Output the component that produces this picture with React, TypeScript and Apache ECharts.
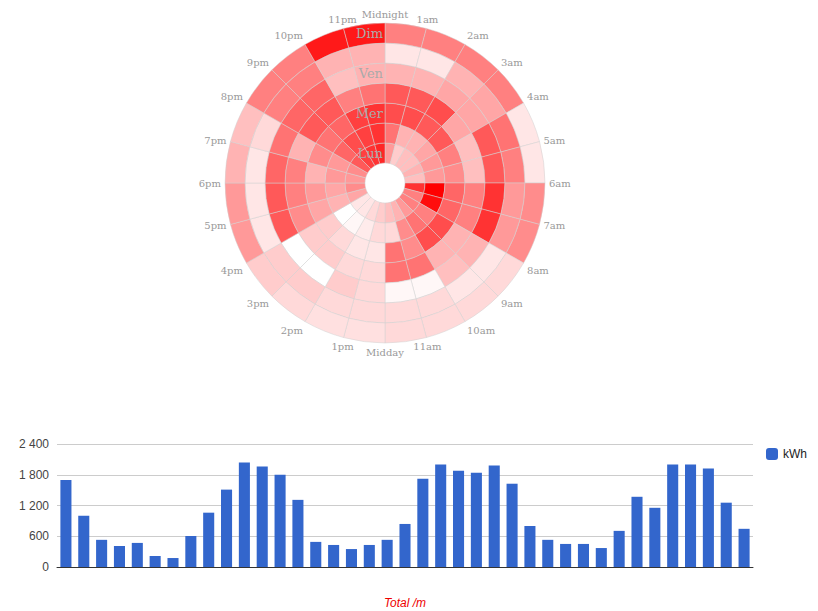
import { useEffect, useRef } from "react";
import * as echarts from "echarts";

const days = ["Lun", "Mar", "Mer", "Jeu", "Ven", "Sam", "Dim"];
const hours = [
    "Midnight", "1am", "2am", "3am", "4am", "5am", "6am", "7am", "8am", "9am", "10am", "11am",
    "Midday", "1pm", "2pm", "3pm", "4pm", "5pm", "6pm", "7pm", "8pm", "9pm", "10pm", "11pm",
];
// intensity 0..10 per hour, rings Lun -> Dim
const intensity = [
    [4, 5.5, 7, 6.5, 3, 1, 5],
    [2, 3, 7, 6.5, 3, 1, 5],
    [2.5, 3, 6.5, 7, 3.5, 3, 5],
    [2.5, 3.5, 6.5, 3.5, 3.5, 3.5, 5],
    [3, 4, 5, 2.5, 6.5, 5.5, 1],
    [2.5, 4, 4.5, 2.5, 6.5, 5, 1],
    [8, 10, 6, 5, 8, 4, 4.5],
    [5, 9.5, 6, 5, 8, 4, 4.5],
    [5, 5, 7, 3, 3, 1, 1.5],
    [4, 5.5, 7, 3, 2.5, 1, 1.5],
    [3, 4.5, 4.5, 5.5, 0.3, 1.5, 1.5],
    [2.5, 1.5, 5.5, 5.5, 0.3, 1.5, 1.5],
    [2, 1.5, 1, 1.5, 1.5, 1.5, 1.2],
    [1.5, 0.8, 1, 1.5, 2, 1.5, 1.2],
    [1, 0.3, 1.5, 2, 0, 2, 1.5],
    [1, 0, 2, 2, 0, 2, 2],
    [3.5, 3, 3.5, 4.5, 6.5, 1, 4],
    [4.5, 3.5, 4, 5, 6.5, 1, 4],
    [4, 4, 3, 5, 6, 1, 3],
    [4.5, 4, 4.5, 3, 5.5, 1.5, 2.5],
    [6.5, 6, 5.5, 6.5, 6, 5, 5],
    [7.5, 7, 6, 6.5, 6, 5, 5],
    [8, 7.5, 7.5, 5, 2.5, 3, 9],
    [8.5, 8, 8, 5.5, 3, 3, 9],
];

const barCategories = Array.from({ length: 39 }, (_, i) => String(i + 1));
const kwh = [
    1700, 1000, 530, 410, 470, 215, 175, 605, 1060, 1510, 2040, 1960, 1800, 1310,
    490, 430, 350, 430, 530, 840, 1720, 2000, 1880, 1840, 1980, 1625, 800, 530,
    450, 450, 370, 705, 1370, 1155, 2000, 2000, 1920, 1255, 745,
];

function heat(v: number) {
    const c = Math.round(255 * (1 - v / 10));
    return `rgb(255,${c},${c})`;
}

export default function App() {
    const chartRef = useRef<HTMLDivElement | null>(null);

    useEffect(() => {
        document.body.style.margin = "0";
        if (!chartRef.current) return;
        const chart = echarts.init(chartRef.current, null, { renderer: "svg" });

        const polarSeries = hours.map((h, hi) => ({
            type: "bar",
            name: h,
            coordinateSystem: "polar",
            stack: "hours",
            barCategoryGap: 0,
            barGap: 0,
            itemStyle: { borderColor: "#d0d0d0", borderWidth: 0.5 },
            data: days.map((d, di) => ({ value: 1, itemStyle: { color: heat(intensity[hi][di]) } })),
        }));

        chart.setOption({
            animation: false,
            polar: { center: [385, 183], radius: [20, 160] },
            angleAxis: {
                type: "value",
                min: 0,
                max: 24,
                interval: 1,
                startAngle: 90,
                clockwise: true,
                axisLine: { show: false },
                axisTick: { show: false },
                splitLine: { show: false },
                axisLabel: {
                    color: "#999",
                    fontFamily: "DejaVu Serif",
                    fontSize: 10,
                    margin: 4,
                    formatter: (v: number) => (v >= 24 ? "" : hours[v]),
                },
            },
            radiusAxis: {
                type: "category",
                data: days,
                z: 10,
                axisLine: { show: false },
                axisTick: { show: false },
                axisLabel: {
                    inside: true,
                    color: "#aaa",
                    fontFamily: "DejaVu Serif",
                    fontSize: 13,
                    margin: 2,
                },
            },
            grid: { left: 57, right: 65, top: 444, bottom: 44 },
            legend: {
                right: 6,
                top: 443,
                itemWidth: 12,
                itemHeight: 12,
                orient: "vertical",
                textStyle: { color: "#222", fontFamily: "Liberation Sans", fontSize: 12 },
                data: ["kWh"],
            },
            xAxis: {
                type: "category",
                data: barCategories,
                name: "Total /m",
                nameLocation: "middle",
                nameGap: 30,
                nameTextStyle: { color: "#e00", fontStyle: "italic", fontFamily: "Liberation Sans", fontSize: 12 },
                axisLine: { lineStyle: { color: "#333" } },
                axisTick: { show: false },
                axisLabel: { show: false },
            },
            yAxis: {
                type: "value",
                min: 0,
                max: 2400,
                interval: 600,
                axisLabel: {
                    color: "#444",
                    fontFamily: "Liberation Sans",
                    fontSize: 12,
                    formatter: (v: number) => v.toLocaleString("fr-FR").replace(/\u202f|\u00a0/g, " "),
                },
                splitLine: { lineStyle: { color: "#ccc" } },
            },
            series: [
                ...polarSeries,
                {
                    type: "bar",
                    name: "kWh",
                    data: kwh,
                    barCategoryGap: "38%",
                    itemStyle: { color: "#3366cc" },
                },
            ],
        } as any);

        return () => chart.dispose();
    }, []);

    return <div ref={chartRef} style={{ width: 818, height: 611 }} />;
}
